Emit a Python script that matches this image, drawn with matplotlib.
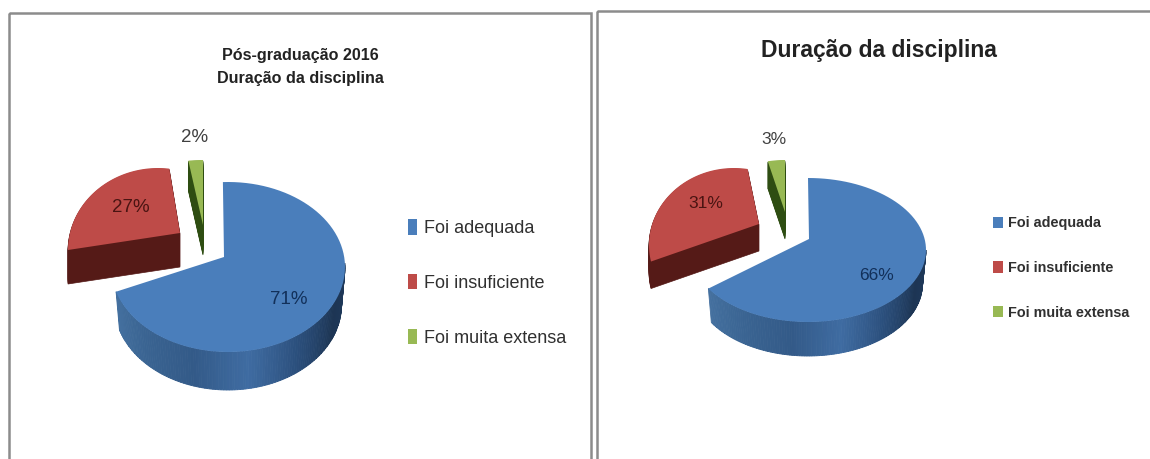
import numpy as np
import matplotlib
matplotlib.use("Agg")
import matplotlib.pyplot as plt
from matplotlib.colors import LinearSegmentedColormap
from matplotlib.patches import Patch, Rectangle

categories = ["Foi adequada", "Foi insuficiente", "Foi muita extensa"]
values_left = [71, 27, 2]
values_right = [66, 31, 3]
title_left = "Pós-graduação 2016\nDuração da disciplina"
title_right = "Duração da disciplina"

TOP = ["#4a7ebb", "#be4b48", "#98b954"]
SIDE = ["#2c4d75", "#551a17", "#2e4d12"]
BLUE_SIDE = LinearSegmentedColormap.from_list(
    "bs", ["#44709f", "#3a6492", "#335a88", "#3f6ca2", "#2b4f7c", "#1d3554", "#1f3a5c"])
FONT = ["Liberation Sans", "DejaVu Sans"]

# layout of each drawn slice: ellipse centre, radii, angular rotation, apex, depth
layout_left = [
    dict(c=(228, 267), r=(117, 85), rot=-2.5, apex=(224, 257), depth=38),
    dict(c=(158, 250), r=(90, 82), rot=14.4, apex=(180, 233), depth=34),
    dict(c=(203, 245), r=(117, 85), rot=0, apex=(203, 225), depth=30),
]
layout_right = [
    dict(c=(808, 250), r=(118, 72), rot=0, apex=(809, 239), depth=34),
    dict(c=(734, 245), r=(85, 77), rot=20, apex=(759, 224), depth=27),
    dict(c=(785, 232), r=(92, 72), rot=0, apex=(785, 212), depth=27),
]

fig = plt.figure(figsize=(11.5, 4.59), dpi=100, facecolor="white")
ax = fig.add_axes([0, 0, 1, 1])
ax.set_xlim(0, 1150)
ax.set_ylim(459, 0)
ax.axis("off")


def outline(s, a0, a1, dy=0, shrink=1.0):
    th = np.radians(np.linspace(a0 + s["rot"], a1 + s["rot"], 90))
    x = s["c"][0] + s["r"][0] * shrink * np.sin(th)
    y = s["c"][1] - s["r"][1] * np.cos(th) + dy
    return x, y


def draw_pie(values, layout):
    fr = np.cumsum([0] + list(values)) / sum(values) * 360
    order = [2, 1, 0]
    for i in order:
        s, a0, a1 = layout[i], fr[i], fr[i + 1]
        x, y = outline(s, a0, a1)
        px = np.r_[s["apex"][0], x]
        py = np.r_[s["apex"][1], y]
        if i == 0:
            th = np.linspace(90, a1, 120)
            for k in range(len(th) - 1):
                xa, ya = outline(s, th[k], th[k + 1])
                xb, yb = outline(s, th[k], th[k + 1], s["depth"], 0.97)
                col = BLUE_SIDE(1 - k / (len(th) - 2))
                ax.fill(np.r_[xa, xb[::-1]], np.r_[ya, yb[::-1]], color=col, lw=0.6, zorder=2)
        else:
            for d in np.linspace(s["depth"], 1, s["depth"]):
                ax.fill(px, py + d, color=SIDE[i], lw=0.5, zorder=1 + (2 - i) * 0.1)
        ax.fill(px, py, color=TOP[i], lw=0, zorder=1.5 if i else 3)


draw_pie(values_left, layout_left)
draw_pie(values_right, layout_right)

# panel borders
for (x0, y0, x1, y1) in [(9, 13, 591, 475), (597, 11, 1170, 475)]:
    ax.add_patch(Rectangle((x0, y0), x1 - x0, y1 - y0, fc="none", ec="#8c8c8c", lw=1.8, zorder=5))

# titles
ax.text(300, 67, title_left, ha="center", va="center", fontsize=11.6, family=FONT,
        color="#222222", fontweight="bold", linespacing=1.6)
ax.text(879, 50, title_right, ha="center", va="center", fontsize=16.5, family=FONT,
        color="#222222", fontweight="bold")

# value labels
lab_left = [(289, 300), (131, 207), (195, 138)]
lab_right = [(876, 275), (706, 203), (774, 140)]
lab_cols = ["#12305a", "#4a1412", "#404040"]
for vals, pos, fs in [(values_left, lab_left, 13.5), (values_right, lab_right, 12.5)]:
    for v, p, c in zip(vals, pos, lab_cols):
        ax.text(p[0], p[1], f"{v}%", ha="center", va="center", fontsize=fs, family=FONT, color=c)

# legends
handles = [Patch(facecolor=c, edgecolor="none") for c in TOP]
leg1 = ax.legend(handles, categories, loc="center left", bbox_to_anchor=(408, 283),
                 bbox_transform=ax.transData, frameon=False, prop={"family": FONT, "size": 13},
                 handlelength=0.5, handleheight=0.94, handletextpad=0.39, labelspacing=2.05,
                 borderpad=0, borderaxespad=0, labelcolor="#303030")
ax.add_artist(leg1)
leg2 = ax.legend(handles, categories, loc="center left", bbox_to_anchor=(993, 268),
                 bbox_transform=ax.transData, frameon=False,
                 prop={"family": FONT, "size": 10.4, "weight": "bold"},
                 handlelength=0.68, handleheight=0.8, handletextpad=0.34, labelspacing=2.12,
                 borderpad=0, borderaxespad=0, labelcolor="#303030")

fig.savefig("out.png", dpi=100, facecolor="white")
